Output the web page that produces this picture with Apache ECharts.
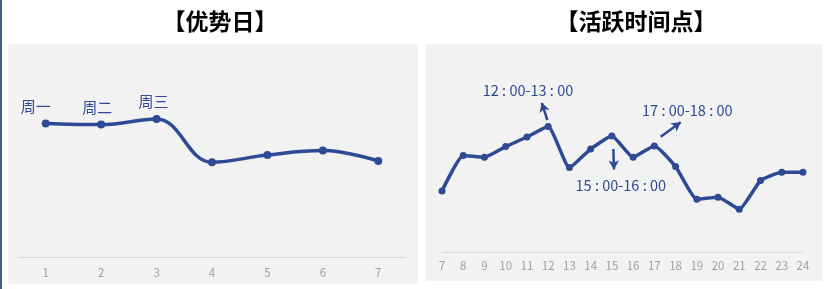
<!DOCTYPE html>
<html>
<head>
<meta charset="utf-8">
<script src="https://cdn.jsdelivr.net/npm/echarts@6/dist/echarts.min.js"></script>
<style>
html,body{margin:0;padding:0;background:#fff;}
#c{width:828px;height:289px;}
</style>
</head>
<body>
<div id="c"></div>
<script>
// ---- data ----
var dayCategories = ['1', '2', '3', '4', '5', '6', '7'];
var dayValues = [66.8, 66.2, 69, 47.4, 51, 53.2, 48];
var dayLabels = ['周一', '周二', '周三', '', '', '', ''];

var hourCategories = [7, 8, 9, 10, 11, 12, 13, 14, 15, 16, 17, 18, 19, 20, 21, 22, 23, 24];
var hourValues = [30.5, 48.2, 47.4, 52.7, 57.5, 62.7, 42.2, 51.5, 58, 47.4, 53, 42.7, 26.4, 27.4, 21.4, 35.7, 39.9, 39.9];

var noteTexts = ['12 : 00-13 : 00', '15 : 00-16 : 00', '17 : 00-18 : 00'];
var noteAnchors = [[11.05, 80.6], [15.42, 33.5], [18.55, 71]];
var arrowStarts = [[11.96, 66], [15.07, 51.5], [17.3, 57.6]];
var arrowEnds = [[11.7, 74.6], [15.1, 41.3], [18.24, 64.9]];

var titles = ['【优势日】', '【活跃时间点】'];

// ---- styles ----
var lineColor = '#2e4a94';
var labelOffsets = [[-10, 0], [-4, 0], [-3, 0]];
var cjk = '"Noto Sans CJK SC", "Noto Sans", sans-serif';

var chart = echarts.init(document.getElementById('c'), null, {renderer: 'canvas'});

var dayData = dayValues.map(function (v, i) {
  var item = {value: v};
  if (dayLabels[i]) {
    item.label = {show: true, formatter: dayLabels[i], offset: labelOffsets[i] || [0, 0]};
  }
  return item;
});

var hourData = hourCategories.map(function (h, i) { return [h, hourValues[i]]; });

var notePoints = noteTexts.map(function (t, i) {
  return {coord: noteAnchors[i], value: t};
});
var arrowLines = arrowStarts.map(function (s, i) {
  return [{coord: s}, {coord: arrowEnds[i]}];
});

var axisLabelStyle = {color: '#a0a0a0', fontSize: 11.5, fontFamily: cjk};

chart.setOption({
  animation: false,
  backgroundColor: '#ffffff',
  graphic: [
    {type: 'rect', shape: {x: 0, y: 0, width: 2, height: 289}, style: {fill: '#4b5b8c'}, z: -10},
    {type: 'rect', shape: {x: 8, y: 44, width: 410, height: 240}, style: {fill: '#f2f2f2'}, z: -10},
    {type: 'rect', shape: {x: 426, y: 44, width: 396, height: 237}, style: {fill: '#f2f2f2'}, z: -10}
  ],
  title: [
    {text: titles[0], left: 215, top: 5, textAlign: 'center',
      textStyle: {fontSize: 23, fontWeight: 'bold', color: '#000', fontFamily: cjk}},
    {text: titles[1], left: 631, top: 5, textAlign: 'center',
      textStyle: {fontSize: 23, fontWeight: 'bold', color: '#000', fontFamily: cjk}}
  ],
  grid: [
    {left: 18, right: 422, top: 57, height: 200},
    {left: 442, right: 25, top: 52, height: 200}
  ],
  xAxis: [
    {gridIndex: 0, type: 'category', data: dayCategories, boundaryGap: true,
      axisLine: {lineStyle: {color: '#d9d9d9', width: 1}}, axisTick: {show: false},
      axisLabel: Object.assign({margin: 10}, axisLabelStyle)},
    {gridIndex: 1, type: 'value', min: 7, max: 24, interval: 1,
      axisLine: {show: true, lineStyle: {color: '#d9d9d9', width: 1}}, axisTick: {show: false},
      splitLine: {show: false},
      axisLabel: Object.assign({margin: 8}, axisLabelStyle)}
  ],
  yAxis: [
    {gridIndex: 0, type: 'value', min: 0, max: 100, show: false},
    {gridIndex: 1, type: 'value', min: 0, max: 100, show: false}
  ],
  series: [
    {type: 'line', xAxisIndex: 0, yAxisIndex: 0, data: dayData, smooth: 0.4,
      symbol: 'circle', symbolSize: 8,
      lineStyle: {color: lineColor, width: 3.5}, itemStyle: {color: lineColor},
      label: {show: false, position: 'top', distance: 6, color: lineColor, fontSize: 15, fontFamily: cjk}},
    {type: 'line', xAxisIndex: 1, yAxisIndex: 1, data: hourData, smooth: 0.15,
      symbol: 'circle', symbolSize: 7,
      lineStyle: {color: lineColor, width: 3.5}, itemStyle: {color: lineColor},
      markPoint: {
        symbol: 'circle', symbolSize: 0, silent: true,
        label: {show: true, position: 'inside', formatter: '{c}', color: lineColor, fontSize: 14.5, fontFamily: cjk},
        data: notePoints
      },
      markLine: {
        silent: true, symbol: ['none', 'arrow'], symbolSize: [8, 9],
        lineStyle: {color: lineColor, width: 2.5, type: 'solid'},
        label: {show: false},
        data: arrowLines
      }}
  ]
});
</script>
</body>
</html>
